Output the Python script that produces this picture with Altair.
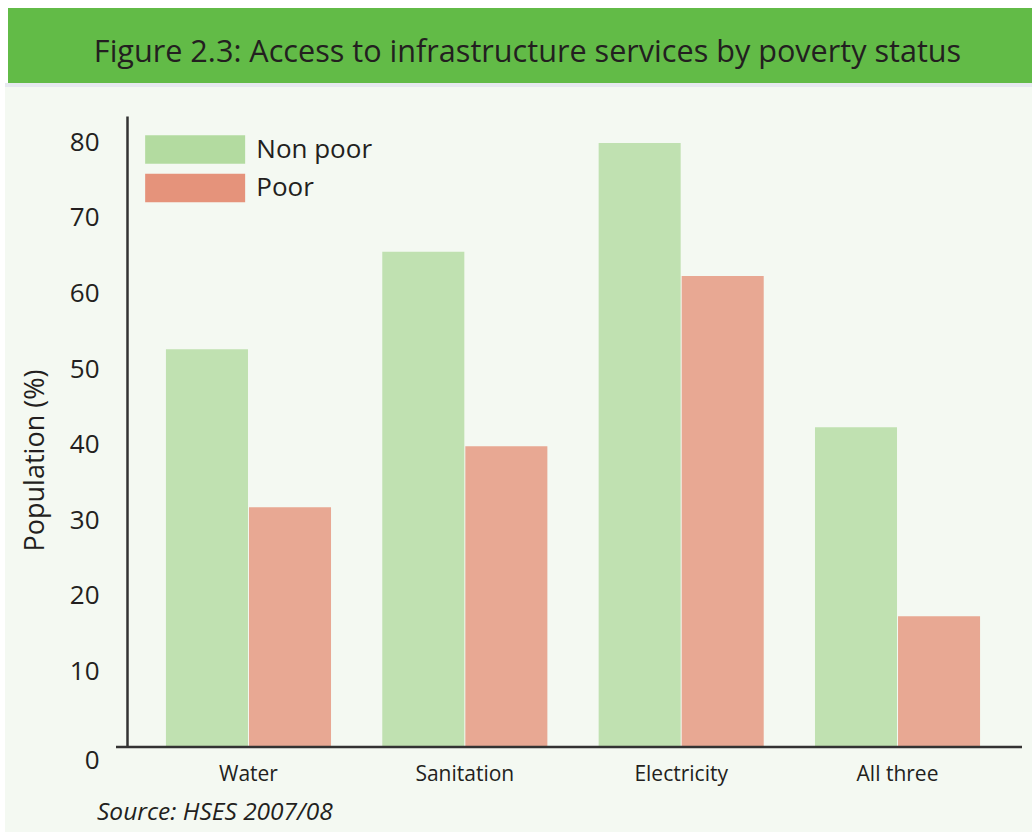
import altair as alt
import pandas as pd

categories = ["Water", "Sanitation", "Electricity", "All three"]
non_poor = [52.6, 65.5, 79.9, 42.3]
poor = [31.7, 39.8, 62.3, 17.3]
series = ["Non poor", "Poor"]
series_colors = ["#b3dba0", "#e5937b"]
y_ticks = [0, 10, 20, 30, 40, 50, 60, 70, 80]
title_text = "Figure 2.3: Access to infrastructure services by poverty status"
source_text = "Source: HSES 2007/08"

rows = []
for c, a, b in zip(categories, non_poor, poor):
    rows.append({"category": c, "status": series[0], "value": a})
    rows.append({"category": c, "status": series[1], "value": b})
df = pd.DataFrame(rows)

W, H = 892, 631
TEXT = "#231f20"
FONT = "Open Sans"


def one():
    return alt.Data(values=[{"k": 1}])


panel = alt.Chart(one()).mark_rect(color="#f4f9f2").encode(
    x=alt.value(-122), x2=alt.value(W + 13), y=alt.value(-29), y2=alt.value(H + 85)
)
sep = alt.Chart(one()).mark_rect(color="#e6e9ef").encode(
    x=alt.value(-122), x2=alt.value(W + 13), y=alt.value(-33), y2=alt.value(-29)
)
band = alt.Chart(one()).mark_rect(color="#62bb47").encode(
    x=alt.value(-119), x2=alt.value(W + 13), y=alt.value(-108), y2=alt.value(-33)
)
title = alt.Chart(one()).mark_text(
    text=title_text, fontSize=30.6, font=FONT, color=TEXT, align="center", baseline="alphabetic"
).encode(x=alt.value(400.5), y=alt.value(-54))
source = alt.Chart(one()).mark_text(
    text=source_text, fontSize=24.5, font=FONT, fontStyle="italic", color=TEXT,
    align="left", baseline="alphabetic"
).encode(x=alt.value(-30), y=alt.value(704))

# legend swatch: 100 x 28.7 px rectangle drawn as a custom symbol
sym_h = 28.7
sym_half_w = 50 / (sym_h / 2)
sym_path = f"M{-sym_half_w:.3f},-1L{sym_half_w:.3f},-1L{sym_half_w:.3f},1L{-sym_half_w:.3f},1Z"
sym_offset = 50 - sym_h / 2

bars = alt.Chart(df).mark_bar(opacity=0.8).encode(
    x=alt.X(
        "category:N", sort=categories,
        scale=alt.Scale(paddingInner=0.237, paddingOuter=0.18),
        axis=alt.Axis(title=None, labelFontSize=21, labelFont=FONT, labelColor=TEXT,
                      labelPadding=16, ticks=False, tickSize=0, domain=False, labelAngle=0,
                      zindex=2),
    ),
    xOffset=alt.XOffset("status:N", sort=series, scale=alt.Scale(paddingInner=0.012)),
    y=alt.Y(
        "value:Q",
        scale=alt.Scale(domain=[0, 83.47], nice=False, zero=True),
        axis=alt.Axis(
            values=y_ticks, title="Population (%)", grid=False, ticks=False, tickSize=0,
            labelFontSize=26, labelFont=FONT, labelColor=TEXT, labelPadding=28,
            labelBaseline={"condition": {"test": "datum.value === 0", "value": "top"}, "value": "middle"},
            domainColor="#333333", domainWidth=2.5,
            titleX=-84, titleY=344, titleAngle=270, titleAlign="center",
            titleBaseline="alphabetic", titleFontSize=27, titleFontWeight="normal",
            titleFont=FONT, titleColor=TEXT, zindex=2,
        ),
    ),
    color=alt.Color(
        "status:N", sort=series,
        scale=alt.Scale(domain=series, range=series_colors),
        legend=alt.Legend(
            title=None, orient="none", legendX=18, legendY=19,
            symbolType=sym_path, symbolSize=sym_h * sym_h,
            symbolOffset=sym_offset,
            symbolOpacity=1, symbolStrokeWidth=0,
            labelFontSize=26, labelFont=FONT, labelColor=TEXT,
            labelOffset=111 - sym_h - sym_offset,
            rowPadding=9.5,
        ),
    ),
)

axis_line = alt.Chart(one()).mark_rule(color="#333333", strokeWidth=2.5).encode(
    x=alt.value(-11), x2=alt.value(W + 3), y=alt.value(H)
)

chart = alt.layer(panel, sep, band, title, source, bars, axis_line).properties(
    width=W, height=H,
    padding={"left": 127, "top": 116, "right": 13, "bottom": 85},
    autosize="none",
).configure(background="white").configure_view(strokeWidth=0)

chart.save("out.html", embed_options={"renderer": "svg", "actions": False})
